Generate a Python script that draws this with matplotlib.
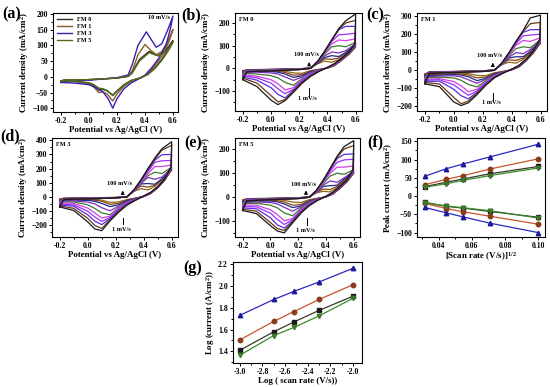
"""Cyclic voltammetry of FM 0/1/3/5 electrodes -> out.png."""
import matplotlib
matplotlib.use("Agg")
import matplotlib.pyplot as plt
from matplotlib.ticker import AutoMinorLocator, MultipleLocator

plt.rcParams["font.family"] = ["Liberation Serif", "DejaVu Serif"]
plt.rcParams["font.weight"] = "bold"
plt.rcParams["axes.labelweight"] = "bold"
plt.rcParams["mathtext.fontset"] = "custom"
plt.rcParams["mathtext.rm"] = "Liberation Serif:bold"
plt.rcParams["mathtext.default"] = "rm"

# ---------------- (a) CVs at 10 mV/s ----------------
a_labels = ["FM 0", "FM 1", "FM 3", "FM 5"]
a_colors = ["#3a2a14", "#8b5a2b", "#3a1fb0", "#4f6b1e"]
a_fm0_v = [-0.2, -0.18, 0.0, 0.2, 0.28, 0.31, 0.36, 0.43, 0.47, 0.5, 0.55, 0.6,
           0.57, 0.52, 0.47, 0.42, 0.37, 0.3, 0.25, 0.2, 0.17, 0.13, 0.1, 0.07, 0.03, 0.0, -0.1, -0.2]
a_fm0_i = [-14, -11, -9, -4, 2, 15, 55, 81, 72, 68, 85, 115,
           90, 55, 28, 8, -3, -12, -25, -45, -58, -45, -40, -42, -25, -20, -14, -14]
a_fm1_v = [-0.2, -0.18, 0.0, 0.2, 0.28, 0.31, 0.35, 0.40, 0.44, 0.48, 0.52, 0.56, 0.6,
           0.57, 0.52, 0.47, 0.42, 0.37, 0.3, 0.25, 0.2, 0.17, 0.13, 0.1, 0.07, 0.03, 0.0, -0.1, -0.2]
a_fm1_i = [-14, -10, -9, -4, 2, 20, 70, 103, 85, 70, 80, 110, 150,
           110, 65, 35, 10, -3, -15, -30, -55, -77, -55, -48, -50, -30, -22, -15, -14]
a_fm3_v = [-0.2, -0.18, 0.0, 0.2, 0.28, 0.31, 0.35, 0.41, 0.45, 0.48, 0.52, 0.56, 0.6,
           0.58, 0.55, 0.5, 0.45, 0.4, 0.35, 0.3, 0.25, 0.2, 0.17, 0.14, 0.1, 0.05, 0.0, -0.1, -0.2]
a_fm3_i = [-18, -13, -11, -3, 6, 40, 100, 143, 115, 94, 105, 146, 193,
           150, 100, 60, 30, 5, -8, -20, -38, -70, -100, -72, -48, -35, -25, -20, -18]
a_fm5_v = a_fm0_v
a_fm5_i = [-13, -11, -9, -4, 1, 12, 50, 77, 70, 66, 80, 110,
           85, 52, 26, 7, -3, -12, -26, -46, -60, -44, -38, -36, -24, -19, -14, -13]

# ---------------- (b)-(e) CVs at 1 ... 100 mV/s ----------------
scan_rates = [1, 2, 3, 5, 10, 20, 30, 50, 70, 100]
cv_colors = ["#8b6914", "#8b4513", "#1f2a8a", "#7b2fbe", "#3c7a2e",
             "#d040e0", "#9b30ff", "#5a2be0", "#6b3a14", "#1a1a1a"]
fwd_v = [-0.2, -0.17, 0.0, 0.2, 0.28, 0.33, 0.38, 0.43, 0.48, 0.53, 0.6]
rev_v = [0.6, 0.595, 0.55, 0.5, 0.45, 0.40, 0.34, 0.28, 0.22, 0.16, 0.10, 0.05, 0.0, -0.1, -0.2]

b_fwd = [[-10, -6, -4, -2, 2, 20, 32, 27, 38, 60, 95],
         [-12, -7, -5, -2, 2, 22, 42, 40, 45, 66, 100],
         [-15, -8, -5, -2, 1, 22, 48, 56, 52, 70, 105],
         [-18, -9, -6, -3, 1, 24, 55, 72, 68, 78, 110],
         [-22, -10, -7, -3, 1, 26, 62, 95, 100, 95, 115],
         [-28, -11, -8, -4, 0, 28, 68, 108, 125, 122, 130],
         [-32, -12, -9, -4, 0, 29, 72, 118, 148, 150, 155],
         [-38, -13, -10, -5, 0, 30, 74, 122, 170, 185, 185],
         [-43, -14, -10, -5, 0, 30, 75, 125, 172, 200, 212],
         [-50, -15, -11, -6, 0, 30, 75, 125, 175, 210, 240]]
b_rev = [[95, 90, 60, 35, 12, 1, -4, -10, -22, -20, -13, -10, -9, -9, -10],
         [100, 92, 62, 36, 13, 1, -5, -13, -28, -30, -18, -13, -11, -10, -12],
         [105, 94, 63, 37, 14, 2, -6, -15, -33, -40, -25, -17, -14, -13, -15],
         [110, 96, 64, 38, 15, 2, -7, -18, -38, -53, -38, -25, -20, -17, -18],
         [115, 98, 65, 39, 16, 2, -8, -22, -45, -75, -62, -42, -32, -25, -22],
         [130, 100, 66, 40, 17, 3, -9, -25, -50, -85, -95, -68, -50, -35, -28],
         [155, 102, 67, 41, 18, 3, -10, -28, -55, -92, -112, -90, -65, -42, -32],
         [185, 104, 68, 42, 19, 3, -11, -30, -58, -96, -130, -115, -85, -52, -38],
         [212, 106, 69, 43, 20, 4, -12, -33, -62, -100, -138, -148, -120, -65, -43],
         [240, 108, 70, 44, 21, 4, -14, -36, -66, -105, -142, -160, -140, -80, -50]]

c_fwd = [[-20, -8, -6, -3, 2, 30, 45, 40, 60, 95, 150],
         [-25, -9, -7, -3, 2, 32, 58, 55, 68, 100, 155],
         [-30, -10, -7, -3, 2, 32, 68, 75, 75, 105, 160],
         [-35, -11, -8, -4, 1, 32, 72, 98, 92, 115, 165],
         [-42, -12, -9, -4, 1, 34, 80, 120, 130, 125, 170],
         [-50, -13, -10, -5, 0, 35, 86, 138, 165, 160, 180],
         [-55, -14, -10, -5, 0, 36, 90, 148, 190, 195, 200],
         [-62, -15, -11, -6, 0, 37, 93, 155, 210, 225, 225],
         [-68, -16, -11, -6, 0, 38, 95, 158, 215, 258, 265],
         [-75, -17, -12, -7, 0, 38, 95, 160, 220, 290, 305]]
c_rev = [[150, 145, 95, 52, 18, 2, -6, -14, -30, -28, -18, -15, -14, -17, -20],
         [155, 148, 97, 53, 19, 3, -7, -17, -37, -42, -26, -20, -18, -22, -25],
         [160, 151, 99, 54, 20, 3, -8, -20, -45, -57, -35, -26, -23, -27, -30],
         [165, 154, 100, 55, 21, 4, -9, -24, -50, -72, -52, -36, -30, -32, -35],
         [170, 157, 101, 56, 22, 4, -10, -28, -58, -92, -78, -55, -42, -38, -42],
         [180, 160, 102, 57, 23, 5, -12, -32, -65, -105, -118, -85, -62, -46, -50],
         [200, 163, 103, 58, 24, 5, -13, -36, -70, -115, -138, -110, -80, -52, -55],
         [225, 166, 104, 59, 25, 5, -14, -38, -75, -122, -158, -140, -105, -60, -62],
         [265, 169, 105, 60, 26, 6, -15, -40, -80, -128, -170, -185, -150, -75, -68],
         [305, 172, 106, 61, 27, 6, -16, -42, -84, -135, -180, -195, -175, -90, -75]]

d_fwd = [[-15, -8, -6, -3, 3, 40, 58, 50, 75, 120, 190],
         [-20, -9, -7, -3, 3, 42, 78, 70, 82, 125, 192],
         [-25, -10, -7, -4, 2, 42, 92, 95, 90, 128, 195],
         [-30, -11, -8, -4, 2, 42, 94, 138, 125, 140, 205],
         [-35, -12, -9, -5, 1, 43, 100, 150, 175, 165, 210],
         [-42, -13, -10, -5, 1, 45, 105, 165, 215, 215, 225],
         [-50, -14, -11, -6, 0, 46, 110, 180, 245, 255, 258],
         [-57, -15, -12, -6, 0, 48, 115, 190, 260, 298, 300],
         [-63, -16, -12, -7, 0, 50, 118, 196, 268, 330, 365],
         [-70, -17, -13, -7, 0, 50, 120, 200, 275, 340, 390]]
d_rev = [[190, 185, 118, 64, 24, 3, -8, -18, -35, -38, -22, -16, -14, -14, -15],
         [192, 188, 120, 65, 25, 4, -9, -22, -45, -52, -30, -22, -18, -18, -20],
         [195, 191, 121, 66, 26, 4, -10, -26, -55, -68, -45, -30, -24, -22, -25],
         [205, 194, 122, 67, 27, 5, -12, -32, -65, -98, -75, -48, -36, -28, -30],
         [210, 197, 123, 68, 28, 5, -14, -38, -75, -125, -112, -80, -55, -35, -35],
         [225, 200, 124, 69, 29, 5, -16, -42, -82, -135, -148, -112, -78, -45, -42],
         [258, 203, 125, 70, 30, 6, -18, -46, -90, -145, -172, -140, -100, -55, -50],
         [300, 206, 126, 71, 31, 6, -20, -50, -96, -152, -195, -170, -125, -65, -57],
         [365, 209, 127, 72, 32, 7, -22, -54, -102, -160, -222, -200, -150, -80, -63],
         [390, 212, 128, 73, 33, 7, -24, -58, -108, -168, -238, -225, -175, -95, -70]]

e_fwd = [[-10, -6, -4, -2, 2, 18, 25, 22, 40, 65, 100],
         [-14, -7, -5, -2, 2, 20, 34, 32, 45, 70, 102],
         [-18, -8, -5, -3, 1, 20, 45, 48, 50, 75, 105],
         [-22, -9, -6, -3, 1, 20, 50, 68, 62, 80, 110],
         [-26, -10, -7, -3, 1, 24, 56, 88, 100, 95, 115],
         [-32, -11, -8, -4, 0, 25, 62, 100, 125, 125, 130],
         [-38, -12, -9, -4, 0, 26, 66, 108, 145, 155, 158],
         [-44, -13, -9, -5, 0, 27, 68, 115, 160, 178, 180],
         [-50, -14, -10, -5, 0, 28, 70, 118, 165, 200, 215],
         [-55, -15, -10, -6, 0, 28, 70, 120, 170, 210, 235]]
e_rev = [[100, 96, 63, 36, 13, 1, -4, -10, -22, -20, -13, -10, -9, -9, -10],
         [102, 98, 64, 37, 14, 1, -5, -13, -30, -33, -20, -14, -12, -12, -14],
         [105, 100, 65, 38, 14, 2, -6, -16, -36, -43, -28, -19, -16, -16, -18],
         [110, 102, 66, 39, 15, 2, -7, -19, -40, -58, -42, -28, -22, -20, -22],
         [115, 104, 67, 40, 16, 3, -8, -22, -46, -77, -65, -44, -33, -25, -26],
         [130, 106, 68, 41, 17, 3, -9, -25, -52, -88, -98, -72, -52, -33, -32],
         [158, 108, 69, 42, 18, 3, -10, -28, -56, -93, -113, -92, -66, -40, -38],
         [180, 110, 70, 43, 19, 3, -11, -30, -60, -98, -128, -115, -85, -48, -44],
         [215, 112, 71, 44, 20, 4, -12, -32, -63, -102, -138, -130, -105, -58, -50],
         [235, 114, 72, 45, 21, 4, -13, -35, -66, -106, -148, -140, -118, -68, -55]]

# ---------------- (f) peak current vs sqrt(scan rate), (g) log-log ----------------
sqrt_rate = [0.0316, 0.0447, 0.0548, 0.0707, 0.1]
log_rate = [-3.0, -2.7, -2.52, -2.3, -2.0]
fm0_ipa = [26, 38, 47, 61, 81]
fm0_ipc = [-17, -28, -33, -42, -58]
fm1_ipa = [31, 46, 56, 74, 102]
fm1_ipc = [-20, -34, -43, -55, -77]
fm3_ipa = [54, 75, 88, 107, 142]
fm3_ipc = [-31, -46, -57, -74, -100]
fm5_ipa = [24, 34, 43, 56, 77]
fm5_ipc = [-19, -27, -32, -40, -60]
fm0_log = [1.41, 1.58, 1.67, 1.775, 1.905]
fm1_log = [1.505, 1.675, 1.765, 1.875, 2.01]
fm3_log = [1.73, 1.875, 1.95, 2.035, 2.16]
fm5_log = [1.365, 1.545, 1.62, 1.725, 1.885]

W, H = 550, 387
LAB = 6.4
TICK = 5.6


def rect(l, r, t, b):
    return [l / W, 1 - b / H, (r - l) / W, (b - t) / H]


def style(ax, xlim, ylim, xmaj, ymaj):
    ax.set_xlim(*xlim)
    ax.set_ylim(*ylim)
    ax.xaxis.set_major_locator(MultipleLocator(xmaj))
    ax.yaxis.set_major_locator(MultipleLocator(ymaj))
    ax.xaxis.set_minor_locator(AutoMinorLocator(2))
    ax.yaxis.set_minor_locator(AutoMinorLocator(2))
    ax.tick_params(which="both", direction="out", labelsize=TICK, width=0.7,
                   top=False, right=False, pad=1.2)
    ax.tick_params(which="major", length=2.5)
    ax.tick_params(which="minor", length=1.5)
    for s in ax.spines.values():
        s.set_linewidth(0.8)


def cv_label(ax):
    ax.set_xlabel("Potential vs Ag/AgCl (V)", fontsize=LAB, labelpad=0.5)
    ax.set_ylabel("Current density (mA/cm$^2$)", fontsize=LAB, labelpad=0.5)
    ax.xaxis.set_major_formatter(plt.FuncFormatter(lambda v, p: f"{v:.1f}"))


fig = plt.figure(figsize=(W / 100, H / 100), dpi=100)

# (a)
ax = fig.add_axes(rect(53, 178, 13, 112))
for v, i, lab, col in zip([a_fm0_v, a_fm1_v, a_fm3_v, a_fm5_v],
                          [a_fm0_i, a_fm1_i, a_fm3_i, a_fm5_i], a_labels, a_colors):
    ax.plot(v, i, color=col, lw=1.0, label=lab)
style(ax, (-0.257, 0.636), (-112, 203), 0.2, 50)
cv_label(ax)
ax.text(0.5, 188, "10 mV/s", fontsize=4.5, ha="center", va="center")
ax.legend(loc="upper left", fontsize=4.5, frameon=False, handlelength=2.4,
          labelspacing=0.25, borderaxespad=0.2, bbox_to_anchor=(0.0, 1.0))

# (b)-(e)
cv_panels = [
    (rect(235, 362, 13, 111), b_fwd, b_rev, "FM 0", (-188, 244), 100,
     (0.27, 2, 40, 62), (0.27, -122, -85, -134)),
    (rect(417, 547, 13, 111), c_fwd, c_rev, "FM 1", (-225, 317), 100,
     (0.27, 5, 58, 80), (0.27, -165, -128, -180)),
    (rect(52, 178, 138, 237), d_fwd, d_rev, "FM 3", (-282, 416), 100,
     (0.25, 2, 65, 95), (0.25, -192, -146, -232)),
    (rect(235, 360, 138, 237), e_fwd, e_rev, "FM 5", (-165, 246), 100,
     (0.256, 2, 40, 55), (0.26, -117, -88, -136)),
]
for pos, fwd, rev, name, ylim, ymaj, up, lo in cv_panels:
    ax = fig.add_axes(pos)
    for k in range(len(scan_rates)):
        ax.plot(fwd_v + rev_v, fwd[k] + rev[k], color=cv_colors[k], lw=0.9)
    style(ax, (-0.255, 0.645), ylim, 0.2, ymaj)
    cv_label(ax)
    ax.text(0.03, 0.96, name, transform=ax.transAxes, fontsize=4.5,
            ha="left", va="top")
    x, y0, y1, yt = up
    ax.annotate("", xy=(x, y1), xytext=(x, y0),
                arrowprops=dict(arrowstyle="-|>", color="k", lw=0.7,
                                mutation_scale=5))
    ax.text(x - 0.02, yt, "100 mV/s", fontsize=4.5, ha="center", va="center")
    x, y0, y1, yt = lo
    ax.plot([x, x], [y0, y1], color="k", lw=0.7)
    ax.text(x - 0.01, yt, "1 mV/s", fontsize=4.5, ha="center", va="center")

# (f)
ser = [("#1a1a1a", "#3a3a2a", "s", fm0_ipa, fm0_ipc, fm0_log),
       ("#8b3a1a", "#c8552a", "o", fm1_ipa, fm1_ipc, fm1_log),
       ("#1a1a9a", "#2a2ac0", "^", fm3_ipa, fm3_ipc, fm3_log),
       ("#3a7a2a", "#3a8a2a", "v", fm5_ipa, fm5_ipc, fm5_log)]
ax = fig.add_axes(rect(417, 545, 138, 237))
for mc, lc, m, ipa, ipc, _ in ser:
    for yy in (ipa, ipc):
        ax.plot(sqrt_rate, yy, color=lc, lw=0.9, marker=m, ms=3.2,
                mfc=mc, mec=mc)
style(ax, (0.027, 0.104), (-112, 159), 0.02, 50)
ax.set_xlabel("[Scan rate (V/s)]$^{1/2}$", fontsize=LAB, labelpad=0.5)
ax.set_ylabel("Peak current (mA/cm$^2$)", fontsize=LAB, labelpad=0.5)

# (g)
ax = fig.add_axes(rect(233, 362, 262, 363))
for mc, lc, m, _, _, lg in ser:
    ax.plot(log_rate, lg, color=lc, lw=0.9, marker=m, ms=3.2, mfc=mc, mec=mc)
style(ax, (-3.06, -1.92), (1.294, 2.218), 0.2, 0.2)
ax.xaxis.set_major_formatter(plt.FuncFormatter(lambda v, p: f"{v:.1f}"))
ax.set_xlabel("Log ( scan rate (V/s))", fontsize=LAB, labelpad=0.5)
ax.set_ylabel("Log (current (A/cm$^2$))", fontsize=LAB, labelpad=0.5)

# panel letters
for lab, x, y in [("(a)", 2, 14), ("(b)", 181, 15), ("(c)", 366, 15),
                  ("(d)", 0, 136), ("(e)", 184, 143), ("(f)", 367, 142),
                  ("(g)", 183, 268)]:
    fig.text(x / W, 1 - y / H, lab, fontsize=11.5, ha="left", va="center")

fig.savefig("out.png", dpi=100)
plt.close(fig)
